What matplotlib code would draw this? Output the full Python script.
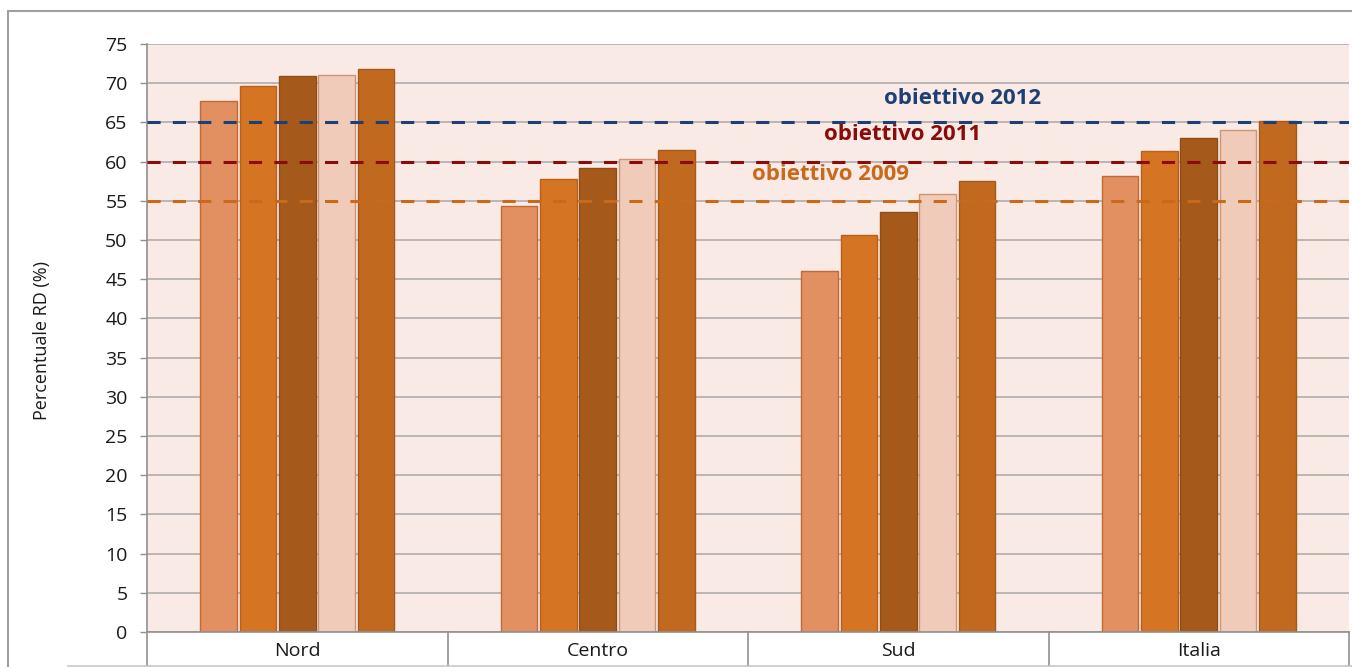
import numpy as np
import matplotlib
matplotlib.use("Agg")
import matplotlib.pyplot as plt
from matplotlib.lines import Line2D

plt.rcParams['font.family'] = ['Open Sans', 'DejaVu Sans']

# data
regioni = ["Nord", "Centro", "Sud", "Italia"]
serie1 = [67.7, 54.3, 46.0, 58.2]
serie2 = [69.6, 57.8, 50.6, 61.4]
serie3 = [70.9, 59.2, 53.6, 63.0]
serie4 = [71.0, 60.3, 55.9, 64.0]
serie5 = [71.8, 61.5, 57.5, 65.2]
obiettivi = [65, 60, 55]
obiettivi_label = ["obiettivo 2012", "obiettivo 2011", "obiettivo 2009"]
yticks = list(range(0, 80, 5))

fills = ["#E29062", "#D57423", "#A55A1B", "#F0CBBA", "#C0691F"]
edges = ["#C06A35", "#B8601C", "#8E4C16", "#CF9470", "#A65A1A"]
obj_colors = ["#1E3F74", "#8B0A0A", "#C8691C"]

W, H = 1352, 667
fig = plt.figure(figsize=(W/100, H/100), dpi=100)
ax = fig.add_axes([147/W, 35/H, (1349-147)/W, (632-44)/H])
ax.set_facecolor("#F9EAE6")

x = np.arange(len(regioni))
slot = 0.131
width = 0.122
allserie = [serie1, serie2, serie3, serie4, serie5]
for k, s in enumerate(allserie):
    ax.bar(x + (k - 2)*slot, s, width, color=fills[k], edgecolor=edges[k],
           linewidth=1.0, zorder=2)

for v, c in zip(obiettivi, obj_colors):
    ax.axhline(v, color=c, lw=2.2, linestyle=(0, (4.3, 4)), zorder=3)

# etichette obiettivi
txt_pos = [(2.215, 68.0), (2.016, 63.5), (1.773, 58.4)]
for (tx, ty), lab, c in zip(txt_pos, obiettivi_label, obj_colors):
    ax.text(tx, ty, lab, color=c, fontsize=16, fontweight="bold",
            ha="center", va="center", zorder=4)

ax.set_xlim(-0.5, 3.5)
ax.set_ylim(0, 75)
ax.set_yticks(yticks)
ax.yaxis.grid(True, color="#A8A8A8", lw=1.1, zorder=0)
ax.set_axisbelow(True)
ax.tick_params(axis="y", length=5, width=1, color="#909090", pad=9,
               labelsize=14, labelcolor="#1a1a1a")
ax.set_xticks([])
for sp in ["top", "right"]:
    ax.spines[sp].set_visible(False)
ax.spines["left"].set_color("#909090")
ax.spines["bottom"].set_color("#909090")
ax.spines["left"].set_linewidth(1.2)
ax.spines["bottom"].set_linewidth(1.2)

# tabella categorie sotto l'asse
for b in np.arange(-0.5, 4.0, 1.0):
    ax.plot([b, b], [0, -5], color="#909090", lw=1.2, clip_on=False, zorder=5)
for i, r in enumerate(regioni):
    ax.text(i, -2.4, r, ha="center", va="center", fontsize=14,
            color="#1a1a1a", clip_on=False)

fig.text(42/W, 1 - 340/H, "Percentuale RD (%)", rotation=90, ha="center",
         va="center", fontsize=13, color="#1a1a1a")

# cornice esterna
fig.add_artist(Line2D([8/W, 1], [1 - 11/H, 1 - 11/H], color="#A0A0A0", lw=1.5))
fig.add_artist(Line2D([8/W, 8/W], [0, 1 - 11/H], color="#A0A0A0", lw=1.5))
fig.add_artist(Line2D([68/W, 1], [1/H, 1/H], color="#C8C8C8", lw=1.2))

fig.savefig("out.png", dpi=100)
